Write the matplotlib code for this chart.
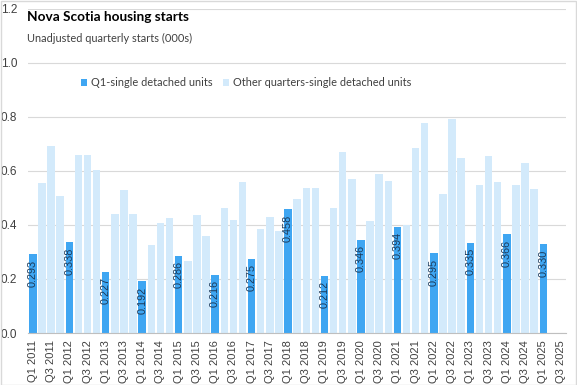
import matplotlib.pyplot as plt
import matplotlib.patches as mpatches
import numpy as np

# quarters Q1 2011 .. Q3 2025
years = list(range(2011, 2026))
quarters = [f"Q{q} {y}" for y in years for q in (1, 2, 3, 4)][:59]

# Q1 single detached starts (000s), one per year
q1_values = [0.293, 0.338, 0.227, 0.192, 0.286, 0.216, 0.275, 0.458,
             0.212, 0.346, 0.394, 0.295, 0.335, 0.366, 0.330]

# Q2, Q3, Q4 of each year (000s)
other_values = [
    0.556, 0.693, 0.507,   # 2011
    0.659, 0.659, 0.602,   # 2012
    0.441, 0.530, 0.441,   # 2013
    0.326, 0.407, 0.426,   # 2014
    0.267, 0.437, 0.359,   # 2015
    0.463, 0.419, 0.559,   # 2016
    0.385, 0.430, 0.378,   # 2017
    0.496, 0.538, 0.538,   # 2018
    0.463, 0.670, 0.570,   # 2019
    0.415, 0.589, 0.563,   # 2020
    0.400, 0.685, 0.778,   # 2021
    0.515, 0.793, 0.648,   # 2022
    0.548, 0.656, 0.559,   # 2023
    0.548, 0.630, 0.533,   # 2024
]

title = "Nova Scotia housing starts"
subtitle = "Unadjusted quarterly starts (000s)"
label_q1 = "Q1-single detached units"
label_other = "Other quarters-single detached units"

dark = "#3fa6f2"
light = "#d3eafb"

q1_x = [4 * i for i in range(len(q1_values))]
other_x = [4 * (i // 3) + 1 + i % 3 for i in range(len(other_values))]

fig = plt.figure(figsize=(5.77, 3.85), dpi=100)
ax = fig.add_axes([0.049, 0.135, 0.932, 0.842])

w = 0.82
ax.bar(q1_x, q1_values, width=w, color=dark, label=label_q1, zorder=3)
ax.bar(other_x, other_values, width=w, color=light, label=label_other, zorder=3)

for x, v in zip(q1_x, q1_values):
    ax.annotate(f"{v:.3f}", (x, v), xytext=(0, -4), textcoords="offset points",
                rotation=90, ha="center", va="top", fontsize=7.8,
                color="#1b3a5a", family="Liberation Sans", zorder=4)

ax.set_xlim(-0.5, len(quarters) - 0.5)
ax.set_ylim(0, 1.2)
ax.set_yticks(np.arange(0, 1.21, 0.2))
ax.set_yticklabels([f"{t:.1f}" for t in np.arange(0, 1.21, 0.2)],
                   fontsize=8.5, color="#404040", family="Liberation Sans")
ax.set_xticks(range(0, len(quarters), 2))
ax.set_xticklabels(quarters[::2], rotation=90, fontsize=8,
                   color="#404040", family="Liberation Sans")
ax.tick_params(length=0, pad=5)
ax.tick_params(axis="y", pad=8)
ax.grid(axis="y", color="#d9d9d9", linewidth=0.8, zorder=0)
for s in ["top", "right", "left"]:
    ax.spines[s].set_visible(False)
ax.spines["bottom"].set_color("#bfbfbf")
ax.spines["bottom"].set_zorder(5)

ax.legend(loc="upper center", bbox_to_anchor=(0.405, 0.82), ncol=2,
          frameon=False, handlelength=0.55, handleheight=0.55,
          handletextpad=0.35, columnspacing=0.9,
          prop={"family": "Lato", "size": 7.9},
          labelcolor="#404040")

fig.text(0.047, 0.955, title, fontsize=9.8, fontweight="bold",
         family="Lato", va="center", ha="left",
         bbox=dict(facecolor="white", edgecolor="none", pad=1))
fig.text(0.047, 0.9, subtitle, fontsize=7.9, color="#404040",
         family="Lato", va="center", ha="left")

fig.patches.append(mpatches.Rectangle((0.001, 0.001), 0.997, 0.997,
                                      transform=fig.transFigure, fill=False,
                                      edgecolor="#d9d9d9", linewidth=1))

plt.savefig("out.png", dpi=100)
